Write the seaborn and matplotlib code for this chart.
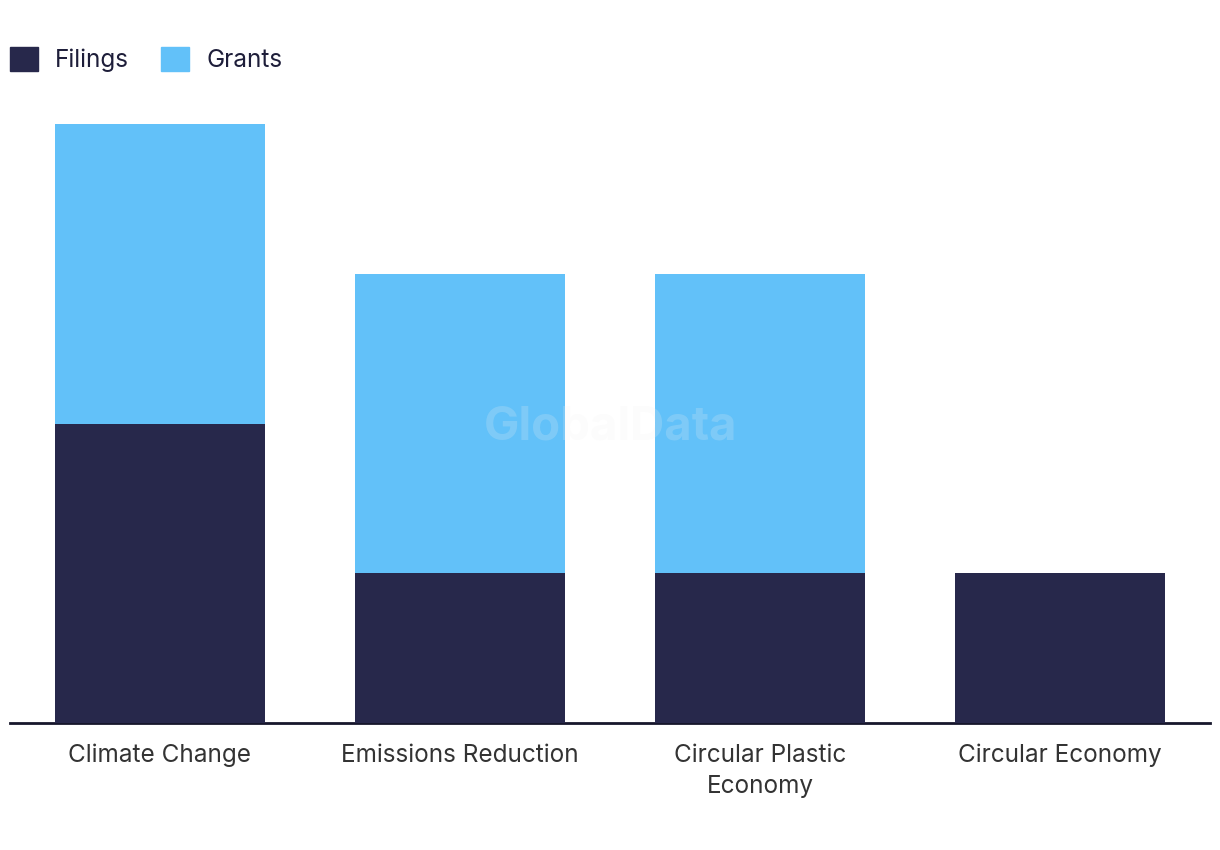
import matplotlib
matplotlib.use("Agg")
import matplotlib.pyplot as plt
import matplotlib.patches as mpatches
import seaborn as sns
import pandas as pd

# Data
categories = ["Climate Change", "Emissions Reduction", "Circular Plastic\nEconomy", "Circular Economy"]
filings = [2, 1, 1, 1]
grants = [2, 2, 2, 0]

FILINGS_COLOR = "#27284b"
GRANTS_COLOR = "#62c1f9"

sns.set_theme(style="white")
plt.rcParams["font.family"] = ["Inter", "DejaVu Sans"]

df = pd.DataFrame({"category": categories, "filings": filings, "grants": grants})
df["total"] = df["filings"] + df["grants"]

fig = plt.figure(figsize=(12.2, 8.5), dpi=100)
ax = fig.add_axes([10 / 1220, 1 - 723 / 850, 1200 / 1220, 599 / 850])

# stacked look: totals first, filings drawn on top
sns.barplot(data=df, x="category", y="total", color=GRANTS_COLOR, width=0.7,
            saturation=1, linewidth=0, ax=ax, zorder=2)
sns.barplot(data=df, x="category", y="filings", color=FILINGS_COLOR, width=0.7,
            saturation=1, linewidth=0, ax=ax, zorder=3)

ax.set_xlim(-0.5, 3.5)
ax.set_ylim(0, 4)
ax.set_xlabel("")
ax.set_ylabel("")
ax.set_yticks([])
for side in ["top", "right", "left"]:
    ax.spines[side].set_visible(False)
ax.spines["bottom"].set_color("#16162b")
ax.spines["bottom"].set_linewidth(2)
ax.tick_params(axis="x", length=0, pad=15, labelsize=17.5, labelcolor="#333333")
for lbl in ax.get_xticklabels():
    lbl.set_linespacing(1.45)
ax.set_facecolor("none")

# faint watermark
fig.text(611 / 1220, 1 - 428 / 850, "GlobalData", ha="center", va="center",
         fontsize=34, fontweight="bold", color="#f0f0f0", alpha=0.2, zorder=10)

handles = [mpatches.Patch(color=FILINGS_COLOR, label="Filings"),
           mpatches.Patch(color=GRANTS_COLOR, label="Grants")]
fig.legend(handles=handles, loc="upper left", bbox_to_anchor=(0.001, 0.955), ncol=2,
           frameon=False, fontsize=17.5, labelcolor="#1e1e3a", handlelength=1.15,
           handleheight=1.15, handletextpad=0.72, columnspacing=1.3,
           borderaxespad=0.0, borderpad=0.35)

fig.savefig("out.png", dpi=100)
